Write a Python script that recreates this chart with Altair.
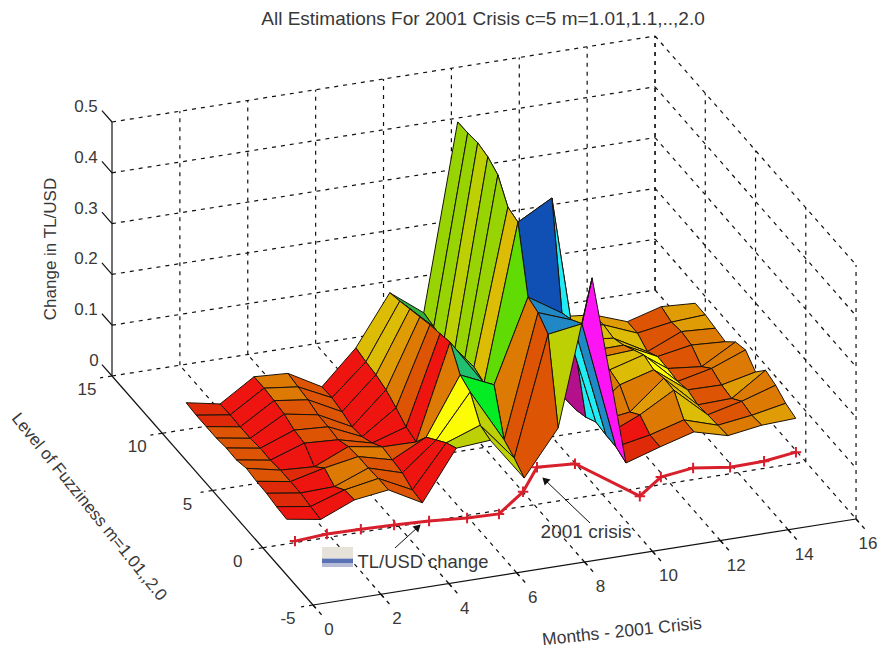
import altair as alt
import pandas as pd

alt.data_transformers.disable_max_rows()

# Surface heights: one list per month x=1..16, values for fuzziness rows y=1..11
Z = [
    [.023, .025, .029, .030, .033, .027, .028, .025, .025, .025, .027],
    [.012, .015, .019, .019, .019, .016, .017, .014, .014, .015, .014],
    [.040, .037, .021, .035, .015, .039, .042, .051, .055, .057, .057],
    [.049, .049, .047, .047, .044, .035, .038, .039, .046, .049, .053],
    [.013, .016, .027, .030, .033, .018, .008, .005, .012, .017, .016],
    [.110, .098, .081, .064, .032, .039, .054, .067, .074, .077, .082],
    [.115, .122, .165, .176, .218, .212, .207, .200, .193, .186, .180],
    [.030, .047, .060, .146, .127, .136, .120, .115, .120, .125, .130],
    [.118, .280, .300, .308, .433, .440, .481, .494, .499, .496, .495],
    [.403, .290, .275, .266, .470, .100, .100, .090, .090, .090, .090],
    [.028, .037, .038, .041, .028, .020, .030, .040, .050, .050, .050],
    [.049, .050, .067, .050, .081, .088, .090, .080, .080, .080, .080],
    [.068, .069, .105, .106, .100, .107, .094, .081, .072, .076, .073],
    [.050, .048, .046, .043, .050, .044, .047, .048, .035, .049, .049],
    [.060, .057, .062, .045, .049, .059, .040, .060, .064, .060, .068],
    [.063, .070, .083, .090, .064, .085, .078, .056, .060, .064, .064],
]

# One colour letter per cell: list per month gap, letters per fuzziness gap (front to back)
CELL_COLORS = [
    "RrrDDDDDrr",
    "RRRrRRRRRR",
    "OOODRDDDOO",
    "DDDODDDDDD",
    "RRRDRRRRRR",
    "LyyORDOGYY",
    "LLBTgggggg",
    "DDOVYKKLKK",
    "LaabKKKKKK",
    "MaCCPOOOOO",
    "rRDOOOOGYY",
    "DOGOYYOYYY",
    "GYYYyyyYYG",
    "ODDDDDDDDD",
    "GOOGOOOOGG",
]
PALETTE = {
    "R": "#ee1410", "r": "#de2a08", "D": "#dc5404", "O": "#dc7a04", "G": "#e09c04",
    "Y": "#dcbc04", "y": "#fcfc04", "L": "#bcd004", "K": "#98d404", "V": "#60dc04",
    "B": "#04ec24", "T": "#20c070", "g": "#30b040", "a": "#2088c4", "b": "#1050b4",
    "C": "#20ecf4", "P": "#b4108c", "M": "#fc14f4",
}

# TL/USD change line
LINE_X = [0.95, 1.89, 2.89, 3.87, 4.9, 6.02, 6.96, 7.67, 8.08, 9.2, 11.11, 11.73, 12.68, 13.77, 14.77, 15.71]
LINE_Z = [.003, .007, .006, .004, .001, -.005, -.007, .029, .073, .068, -.016, .015, .023, .013, .014, .022]

X_TICKS = [0, 2, 4, 6, 8, 10, 12, 14, 16]
Y_TICKS = [-5, 0, 5, 10, 15]
Z_TICKS = [0, .1, .2, .3, .4, .5]
Z_LABELS = ["0", "0.1", "0.2", "0.3", "0.4", "0.5"]

W, H = 871, 641
XS = alt.Scale(domain=[8, 8 + W], range=[0, W], nice=False, zero=False)
YS = alt.Scale(domain=[8, 8 + H], range=[0, H], nice=False, zero=False)


def proj(x, y, z=0.0):
    return (262.75 + 33.94 * x - 10.05 * y, 547.75 - 5.375 * x - 11.45 * y - 508 * z)


def seg(a, b):
    (x1, y1), (x2, y2) = proj(*a), proj(*b)
    return dict(x=x1, y=y1, x2=x2, y2=y2)


X0, X1, Y0, Y1, Z1 = 0, 16, -5, 15, .5
dashed = []
for t in X_TICKS[1:-1]:
    dashed.append(seg((t, Y0), (t, Y1)))
for t in Y_TICKS[1:-1]:
    dashed.append(seg((X0, t), (X1, t)))
for t in X_TICKS[1:]:
    dashed.append(seg((t, Y1, 0), (t, Y1, Z1)))
for t in Y_TICKS:
    dashed.append(seg((X1, t, 0), (X1, t, Z1)))
for t in Z_TICKS:
    dashed.append(seg((X0, Y1, t), (X1, Y1, t)))
    dashed.append(seg((X1, Y1, t), (X1, Y0, t)))
for t in X_TICKS:
    dashed.append(seg((t, Y0), (t, Y0 - 1)))
for t in Y_TICKS:
    dashed.append(seg((X0, t), (X0 - .35, t)))

solid = [seg((X0, Y0), (X1, Y0)), seg((X0, Y0), (X0, Y1)), seg((X0, Y1, 0), (X0, Y1, Z1))]
for t in X_TICKS:
    solid.append(seg((t, Y0), (t, Y0 - .3)))
for t in Z_TICKS:
    solid.append(seg((X0, Y1, t), (X0, Y1 + 1, t)))


def rule_layer(rows, dash=None, color="#111111", width=1.0):
    kw = dict(color=color, strokeWidth=width)
    if dash:
        kw["strokeDash"] = dash
    return alt.Chart(pd.DataFrame(rows)).mark_rule(**kw).encode(
        x=alt.X("x:Q", scale=XS, axis=None),
        y=alt.Y("y:Q", scale=YS, axis=None),
        x2="x2:Q",
        y2="y2:Q",
    )


# Build surface cells, far ones first
cells = []
for i in range(15):
    for j in range(10):
        depth = 5.375 * (i + 1.5) + 11.45 * (j + 1.5)
        cells.append((depth, i, j))
cells.sort(key=lambda c: -c[0])

rows = []
for n, (_, i, j) in enumerate(cells):
    corners = [(i, j), (i + 1, j), (i + 1, j + 1), (i, j + 1)]
    for k, (a, b) in enumerate(corners):
        sx, sy = proj(a + 1, b + 1, Z[a][b])
        rows.append(dict(cell=f"c{n:03d}", n=n, k=k, x=sx, y=sy, fill=PALETTE[CELL_COLORS[i][j]]))
surface_df = pd.DataFrame(rows)

surface = alt.Chart(surface_df).mark_line(
    interpolate="linear-closed", stroke="#1a1208", strokeWidth=1, strokeJoin="round"
).encode(
    x=alt.X("x:Q", scale=XS, axis=None),
    y=alt.Y("y:Q", scale=YS, axis=None),
    detail="cell:N",
    order="k:Q",
    fill=alt.Fill("fill:N", scale=None),
)

line_df = pd.DataFrame(
    [dict(i=i, x=proj(a, 0, b)[0], y=proj(a, 0, b)[1]) for i, (a, b) in enumerate(zip(LINE_X, LINE_Z))]
)
red_line = alt.Chart(line_df).mark_line(color="#d8202c", strokeWidth=3).encode(
    x=alt.X("x:Q", scale=XS, axis=None), y=alt.Y("y:Q", scale=YS, axis=None), order="i:Q"
)
red_pts = alt.Chart(line_df).mark_point(
    shape="M-1,0L1,0M0,-1L0,1", size=110, stroke="#d8202c", strokeWidth=2, opacity=1
).encode(x=alt.X("x:Q", scale=XS, axis=None), y=alt.Y("y:Q", scale=YS, axis=None))


def texts(rows, size=14, color="#383838", angle=0, align="center"):
    return alt.Chart(pd.DataFrame(rows)).mark_text(
        font="Liberation Sans", fontSize=size, color=color, angle=angle, align=align, baseline="middle"
    ).encode(
        x=alt.X("x:Q", scale=XS, axis=None),
        y=alt.Y("y:Q", scale=YS, axis=None),
        text="t:N",
    )


tick_rows = []
for t in X_TICKS:
    sx, sy = proj(t, Y0)
    tick_rows.append(dict(x=sx + (16 if t < 16 else 12), y=sy + 25, t=str(t)))
for t in Y_TICKS:
    sx, sy = proj(X0, t)
    tick_rows.append(dict(x=sx - 25, y=sy + 14, t=str(t)))
for t, lab in zip(Z_TICKS, Z_LABELS):
    sx, sy = proj(X0, Y1, t)
    tick_rows.append(dict(x=sx - (26 if lab != "0" else 18), y=sy - 15, t=lab))

title = texts([dict(x=483, y=19, t="All Estimations For 2001 Crisis c=5 m=1.01,1.1,..,2.0")], size=19)
zlab = texts([dict(x=51, y=249, t="Change in TL/USD")], size=17, angle=270)
ylab = texts([dict(x=89, y=507, t="Level of Fuzziness m=1.01,,2.0")], size=17, angle=51)
xlab = texts([dict(x=622, y=632, t="Months - 2001 Crisis")], size=17.5, angle=354)
crisis = texts([dict(x=586, y=532, t="2001 crisis")], size=19)
usd = texts([dict(x=423, y=562, t="TL/USD change")], size=18.4)

arrows = rule_layer(
    [dict(x=590, y=523, x2=545, y2=480), dict(x=395, y=548, x2=418, y2=527)], color="#111111", width=1
)
head1 = alt.Chart(pd.DataFrame([dict(x=545, y=480)])).mark_point(
    shape="triangle-up", size=70, filled=True, color="#111111", angle=314, opacity=1
).encode(x=alt.X("x:Q", scale=XS, axis=None), y=alt.Y("y:Q", scale=YS, axis=None))
head2 = alt.Chart(pd.DataFrame([dict(x=418, y=527)])).mark_point(
    shape="triangle-up", size=70, filled=True, color="#111111", angle=47, opacity=1
).encode(x=alt.X("x:Q", scale=XS, axis=None), y=alt.Y("y:Q", scale=YS, axis=None))

legend_boxes = alt.Chart(
    pd.DataFrame([dict(x=322, x2=353, y=547, y2=558, c="#e6e2da"), dict(x=322, x2=353, y=558, y2=567, c="#b6bcd8")])
).mark_rect().encode(
    x=alt.X("x:Q", scale=XS, axis=None),
    x2="x2:Q",
    y=alt.Y("y:Q", scale=YS, axis=None),
    y2="y2:Q",
    color=alt.Color("c:N", scale=None),
)
legend_bar = rule_layer([dict(x=322, y=561, x2=353, y2=561)], color="#5a72b4", width=4)

chart = alt.layer(
    rule_layer(dashed, dash=[4, 5], width=1.2),
    rule_layer(solid, width=1.2),
    surface,
    red_line,
    red_pts,
    texts(tick_rows, size=17),
    title, zlab, ylab, xlab,
    legend_boxes, legend_bar,
    arrows, head1, head2, crisis, usd,
).properties(
    width=W, height=H, padding=0, autosize=alt.AutoSizeParams(type="none"), background="white"
).configure_view(stroke=None)

chart.save("out.html", embed_options={"renderer": "svg", "actions": False})
